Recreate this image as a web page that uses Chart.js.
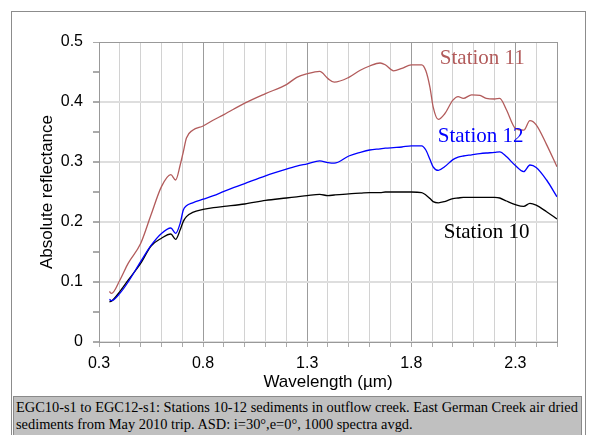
<!DOCTYPE html>
<html lang="en">
<head>
    <meta charset="UTF-8">
    <title>Station spectra</title>
    <script src="https://cdn.jsdelivr.net/npm/chart.js@4.4.0/dist/chart.umd.min.js"></script>
    <style>
      body { margin: 0; background: #fff; }
      #wrap { position: relative; width: 592px; height: 435px; overflow: hidden; }
      #frame {
        position: absolute; left: 11px; top: 11px; width: 575px; height: 440px;
        border: 1px solid #8c8c8c; box-sizing: border-box;
      }
      #myChart { position: absolute; left: 0; top: 0; }
      #caption {
        position: absolute; left: 13px; top: 396px; width: 569px; height: 50px;
        background: #c0c0c0; border: 1px solid #8a8a8a; box-sizing: border-box;
        font-family: "Liberation Serif", "Times New Roman", serif; font-size: 14.4px;
        line-height: 17px; color: #000; padding: 2px 0 0 2px; white-space: nowrap;
      }
    </style>
</head>
<body>
    <div id="wrap">
        <div id="frame"></div>
        <canvas id="myChart" width="592" height="435"></canvas>
        <div id="caption">EGC10-s1 to EGC12-s1: Stations 10-12 sediments in outflow creek. East German Creek air dried<br>sediments from May 2010 trip. ASD: i=30°,e=0°, 1000 spectra avgd.</div>
    </div>

    <script>
        // wavelength in micrometres
        const wavelength = [0.35, 0.36, 0.40, 0.44, 0.50, 0.55, 0.60, 0.645, 0.668, 0.69, 0.705, 0.72, 0.75, 0.80, 0.85, 0.90,
            1.00, 1.10, 1.20, 1.25, 1.30, 1.36, 1.40, 1.43, 1.50, 1.555, 1.60, 1.65, 1.675, 1.715, 1.755, 1.80, 1.85, 1.87,
            1.89, 1.905, 1.93, 1.96, 2.00, 2.025, 2.05, 2.09, 2.13, 2.16, 2.20, 2.225, 2.257, 2.30, 2.34, 2.37, 2.40, 2.45, 2.50];

        const station11 = [0.084, 0.081, 0.103, 0.131, 0.164, 0.212, 0.259, 0.279, 0.270, 0.295, 0.317, 0.340, 0.353, 0.360, 0.370, 0.379,
            0.398, 0.414, 0.429, 0.441, 0.447, 0.451, 0.439, 0.433, 0.441, 0.453, 0.460, 0.465, 0.462, 0.452, 0.456, 0.462, 0.462, 0.452,
            0.424, 0.392, 0.371, 0.380, 0.403, 0.409, 0.406, 0.412, 0.411, 0.406, 0.405, 0.406, 0.387, 0.356, 0.353, 0.369, 0.362, 0.329, 0.292];

        const station12 = [0.071, 0.069, 0.081, 0.100, 0.134, 0.161, 0.181, 0.190, 0.181, 0.198, 0.220, 0.227, 0.232, 0.238, 0.244, 0.251,
            0.264, 0.277, 0.288, 0.293, 0.297, 0.302, 0.299, 0.298, 0.310, 0.316, 0.320, 0.322, 0.323, 0.324, 0.325, 0.327, 0.327, 0.320,
            0.304, 0.292, 0.286, 0.292, 0.304, 0.308, 0.310, 0.312, 0.314, 0.315, 0.316, 0.317, 0.309, 0.294, 0.284, 0.295, 0.291, 0.270, 0.242];

        const station10 = [0.067, 0.068, 0.084, 0.103, 0.131, 0.160, 0.173, 0.180, 0.171, 0.187, 0.201, 0.209, 0.216, 0.221, 0.224, 0.226,
            0.230, 0.236, 0.240, 0.242, 0.244, 0.246, 0.244, 0.245, 0.247, 0.248, 0.249, 0.249, 0.250, 0.250, 0.250, 0.250, 0.249, 0.245,
            0.239, 0.234, 0.232, 0.234, 0.239, 0.240, 0.241, 0.241, 0.241, 0.241, 0.241, 0.240, 0.235, 0.229, 0.226, 0.231, 0.228, 0.217, 0.205];

        const xTickLabels = [0.3, 0.8, 1.3, 1.8, 2.3];
        const yTickLabels = [0, 0.1, 0.2, 0.3, 0.4, 0.5];

        // curve labels, anchored in data units
        const stationNames = ['Station 11', 'Station 12', 'Station 10'];
        const stationColors = ['#b25b5b', '#0000ff', '#000000'];
        const labelX = [1.937, 1.927, 1.956];
        const labelY = [0.473, 0.342, 0.183];

        const r1 = v => Math.round(v * 100) / 100;
        const pts = arr => arr.map((v, i) => ({ x: wavelength[i], y: v }));

        const curveLabels = {
            id: 'curveLabels',
            afterDatasetsDraw(chart) {
                const ctx = chart.ctx;
                ctx.save();
                ctx.font = '21px "Liberation Serif", "Times New Roman", serif';
                ctx.textBaseline = 'middle';
                stationNames.forEach((name, i) => {
                    ctx.fillStyle = stationColors[i];
                    ctx.fillText(name, chart.scales.x.getPixelForValue(labelX[i]), chart.scales.y.getPixelForValue(labelY[i]));
                });
                ctx.restore();
            }
        };

        Chart.defaults.font.family = '"Liberation Sans", Arial, sans-serif';
        Chart.defaults.color = '#000';

        new Chart(document.getElementById('myChart'), {
            type: 'line',
            data: {
                datasets: [
                    { label: 'Station 11', data: pts(station11), borderColor: stationColors[0], borderWidth: 1.3 },
                    { label: 'Station 12', data: pts(station12), borderColor: stationColors[1], borderWidth: 1.3 },
                    { label: 'Station 10', data: pts(station10), borderColor: stationColors[2], borderWidth: 1.3 }
                ]
            },
            options: {
                responsive: false,
                animation: false,
                layout: { padding: { top: 42, right: 35, left: 0, bottom: 0 } },
                elements: { point: { radius: 0 }, line: { tension: 0.3, cubicInterpolationMode: 'monotone' } },
                plugins: { legend: { display: false }, tooltip: { enabled: false } },
                scales: {
                    x: {
                        type: 'linear', min: 0.3, max: 2.5,
                        afterBuildTicks: s => {
                            const t = [];
                            for (let i = 3; i <= 25; i++) t.push({ value: i / 10 });
                            s.ticks = t;
                        },
                        afterFit: s => { s.height = 93; },
                        ticks: {
                            autoSkip: false, maxRotation: 0, padding: 7,
                            font: { size: 16 },
                            callback: v => xTickLabels.includes(r1(v)) ? r1(v).toFixed(1) : ''
                        },
                        grid: {
                            tickLength: 5,
                            color: c => {
                                const v = r1(c.tick.value);
                                if (v === 2.5) return '#999';
                                return xTickLabels.includes(v) ? '#9c9c9c' : '#d2d2d2';
                            },
                            tickColor: '#aaa'
                        },
                        border: { color: '#999' },
                        title: { display: true, text: 'Wavelength (µm)', font: { size: 17 }, padding: { bottom: 42 } }
                    },
                    y: {
                        min: 0, max: 0.5,
                        afterBuildTicks: s => {
                            const t = [];
                            for (let i = 0; i <= 10; i++) t.push({ value: i / 20 });
                            s.ticks = t;
                        },
                        afterFit: s => { s.width = 99; },
                        ticks: {
                            padding: 10,
                            font: { size: 16 },
                            callback: v => yTickLabels.includes(r1(v)) ? String(r1(v)) : ''
                        },
                        grid: {
                            tickLength: 6,
                            color: c => {
                                const v = r1(c.tick.value);
                                if (v === 0.5) return '#999';
                                return yTickLabels.includes(v) ? '#dedede' : 'rgba(0,0,0,0)';
                            },
                            lineWidth: c => (r1(c.tick.value) === 0.5 ? 1 : 2),
                            tickColor: '#aaa'
                        },
                        border: { color: '#999' },
                        title: { display: true, text: 'Absolute reflectance', font: { size: 17 }, padding: { top: 37 } }
                    }
                }
            },
            plugins: [curveLabels]
        });
    </script>
</body>
</html>
